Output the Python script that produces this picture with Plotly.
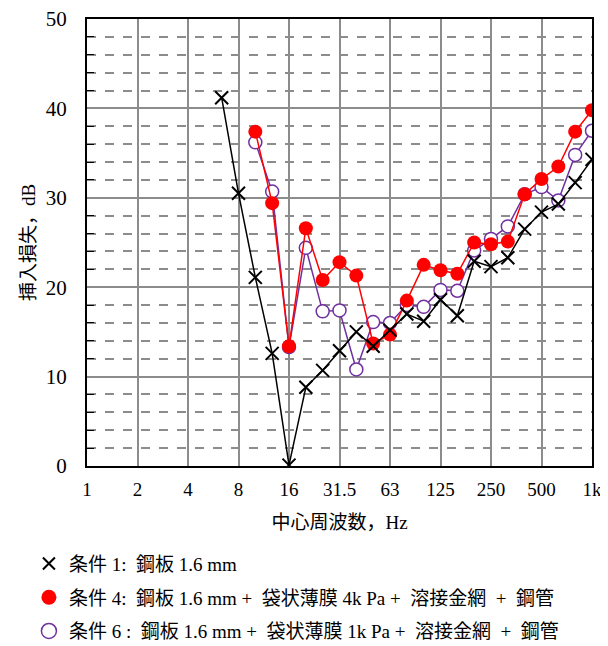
import plotly.graph_objects as go

# 1/3-octave band centre frequencies (category axis)
bands = ["1", "1.25", "1.6", "2", "2.5", "3.15", "4", "5", "6.3", "8", "10", "12.5",
         "16", "20", "25", "31.5", "40", "50", "63", "80", "100", "125", "160", "200",
         "250", "315", "400", "500", "630", "800", "1k"]
tick_labels = ["1", "2", "4", "8", "16", "31.5", "63", "125", "250", "500", "1k"]

# 条件 1
f1 = ["6.3", "8", "10", "12.5", "16", "20", "25", "31.5", "40", "50", "63", "80", "100",
      "125", "160", "200", "250", "315", "400", "500", "630", "800", "1k"]
v1 = [41.2, 30.5, 21.1, 12.6, 0.1, 8.8, 10.7, 12.9, 15.0, 13.4, 15.2, 17.0, 16.2,
      18.6, 16.8, 22.9, 22.3, 23.3, 26.5, 28.4, 29.3, 31.7, 34.3]

# 条件 4
f4 = ["10", "12.5", "16", "20", "25", "31.5", "40", "50", "63", "80", "100", "125",
      "160", "200", "250", "315", "400", "500", "630", "800", "1k"]
v4 = [37.4, 29.4, 13.4, 26.6, 20.8, 22.8, 21.3, 13.7, 14.7, 18.5, 22.5, 21.9,
      21.5, 25.0, 24.8, 25.1, 30.4, 32.1, 33.5, 37.4, 39.8]

# 条件 6
f6 = f4
v6 = [36.2, 30.7, 13.3, 24.4, 17.3, 17.4, 10.8, 16.1, 16.0, 18.0, 17.8, 19.7,
      19.6, 24.1, 25.4, 26.8, 30.4, 31.2, 29.7, 34.8, 37.5]

names = ["条件 1:  鋼板 1.6 mm",
         "条件 4:  鋼板 1.6 mm +  袋状薄膜 4k Pa +  溶接金網  +  鋼管",
         "条件 6 :  鋼板 1.6 mm +  袋状薄膜 1k Pa +  溶接金網  +  鋼管"]

PURPLE = "#7030A0"
FONT = "Liberation Serif, Times New Roman, Noto Sans CJK JP, serif"

fig = go.Figure()
fig.add_trace(go.Scatter(x=f6, y=v6, mode="lines+markers", showlegend=False,
                         line=dict(color=PURPLE, width=1.5),
                         marker=dict(symbol="circle", size=13, color="white",
                                     line=dict(color=PURPLE, width=1.5))))
fig.add_trace(go.Scatter(x=f4, y=v4, mode="lines+markers", showlegend=False,
                         line=dict(color="#FF0000", width=1.5),
                         marker=dict(symbol="circle", size=14, color="#FF0000")))
fig.add_trace(go.Scatter(x=f1, y=v1, mode="lines+markers", showlegend=False,
                         line=dict(color="black", width=1.5),
                         marker=dict(symbol="x-thin", size=13,
                                     line=dict(color="black", width=2))))

# legend-only entries
fig.add_trace(go.Scatter(x=[None], y=[None], mode="markers", name=names[0], legendgroup="a",
                         marker=dict(symbol="x-thin", size=12, line=dict(color="black", width=2))))
fig.add_trace(go.Scatter(x=[None], y=[None], mode="markers", name=names[1], legendgroup="b",
                         marker=dict(symbol="circle", size=15, color="#FF0000")))
fig.add_trace(go.Scatter(x=[None], y=[None], mode="markers", name=names[2], legendgroup="c",
                         marker=dict(symbol="circle", size=15, color="white",
                                     line=dict(color=PURPLE, width=1.5))))

# the page body adds an 8 px offset, so the figure is 600x638
fig.update_layout(
    width=600, height=638,
    margin=dict(l=79, r=16, t=11, b=180, autoexpand=False),
    paper_bgcolor="white", plot_bgcolor="white",
    font=dict(family=FONT, size=19, color="black"),
    legend=dict(x=-0.115, y=-0.176, xanchor="left", yanchor="top",
                font=dict(size=19), traceorder="grouped", tracegroupgap=6,
                bgcolor="rgba(0,0,0,0)"),
)
fig.update_xaxes(
    type="category", categoryorder="array", categoryarray=bands,
    range=[0, 30], tickvals=tick_labels, ticktext=tick_labels,
    showgrid=True, gridcolor="#8c8c8c", gridwidth=1.5,
    showline=True, linecolor="black", linewidth=2, mirror=True,
    ticks="", tickfont=dict(size=19), automargin=False, ticklabelstandoff=5,
    ticklabeloverflow="allow",
    title=dict(text="中心周波数，Hz", font=dict(size=19), standoff=17),
)
fig.update_yaxes(
    range=[0, 50], dtick=10, tick0=0,
    showgrid=True, gridcolor="#8c8c8c", gridwidth=1.5,
    showline=True, linecolor="black", linewidth=2, mirror=True,
    ticks="", tickfont=dict(size=21), ticklabelstandoff=14, automargin=False,
    ticklabeloverflow="allow",
    minor=dict(dtick=2, showgrid=True, griddash="dash", gridcolor="#8c8c8c",
               gridwidth=1.5, ticks="inside", ticklen=7, tickcolor="black"),
    zeroline=False,
    title=dict(text="挿入損失，dB", font=dict(size=19), standoff=5),
)

fig.write_html("out.html")
